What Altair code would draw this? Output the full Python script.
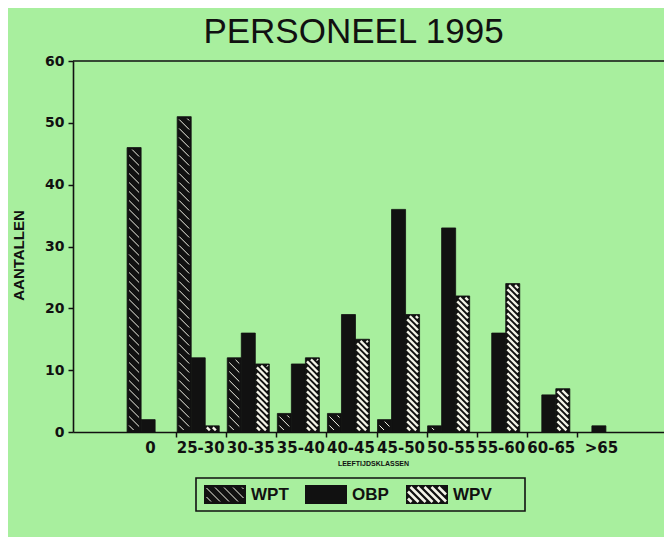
import json
import altair as alt
import pandas as pd

# ---------------- data ----------------
categories = ["0", "25-30", "30-35", "35-40", "40-45", "45-50", "50-55", "55-60", "60-65", ">65"]
series = ["WPT", "OBP", "WPV"]
wpt = [46, 51, 12, 3, 3, 2, 1, 0, 0, 0]
obp = [2, 12, 16, 11, 19, 36, 33, 16, 6, 1]
wpv = [0, 1, 11, 12, 15, 19, 22, 24, 7, 0]
y_ticks = [0, 10, 20, 30, 40, 50, 60]

# ---------------- layout ----------------
W, H = 591, 371
XMIN, XMAX = -0.06, 11.74
YMAX = 60
PX_X = W / (XMAX - XMIN)
PX_Y = H / YMAX
BAR = 0.28
START = 0.02
BG = "#a8ef9e"
FONT = "Liberation Sans"
WIDE = "DejaVu Sans"


def hatch(w, h, step, inset):
    """Diagonal '\\' segments inside a w x h box (u from left, t from bottom)."""
    segs = []
    uw, th = w - 2 * inset, h - 2 * inset
    if uw <= 0 or th <= 0:
        return segs
    c = step / 2
    while c < th + uw:
        u0, u1 = max(0.0, c - th), min(uw, c)
        if u1 - u0 > 0.5:
            segs.append((inset + u0, inset + c - u0, inset + u1, inset + c - u1))
        c += step
    return segs


rows, hrows = [], []
for i, cat in enumerate(categories):
    for j, (s, vals) in enumerate(zip(series, [wpt, obp, wpv])):
        v = vals[i]
        if v <= 0:
            continue
        x0 = i + 1 + START + j * BAR
        rows.append(dict(cat=cat, series=s, value=v, base=0, x0=x0, x1=x0 + BAR))
        if s == "OBP":
            continue
        step, inset = (9.0, 2.0) if s == "WPT" else (6.0, 1.6)
        for (u0, t0, u1, t1) in hatch(BAR * PX_X, v * PX_Y, step, inset):
            hrows.append(dict(series=s, hx0=x0 + u0 / PX_X, hy0=t0 / PX_Y,
                              hx1=x0 + u1 / PX_X, hy1=t1 / PX_Y))
bars = pd.DataFrame(rows)
hat = pd.DataFrame(hrows)

x_scale = alt.Scale(domain=[XMIN, XMAX], nice=False, zero=False)
y_scale = alt.Scale(domain=[0, YMAX], nice=False)
label_expr = json.dumps(categories) + "[datum.value - 1]"
x_axis = alt.Axis(
    values=list(range(1, len(categories) + 1)), labelExpr=label_expr, labelOffset=24,
    tickOpacity={"condition": {"test": "datum.value < 1.5", "value": 0}, "value": 1},
    labelOverlap=False, labelFlush=False, labelBound=False, grid=False,
    labelFont=WIDE, labelFontSize=15, labelFontWeight="bold", labelPadding=3, tickSize=5,
    title="LEEFTIJDSKLASSEN", titleFontSize=7, titleFontWeight="bold",
    titleX=300, titleY=31, titleBaseline="middle", titleAlign="center",
)
y_axis = alt.Axis(
    values=y_ticks, grid=False, tickSize=5, labelFont=WIDE, labelFontSize=14,
    labelFontWeight="bold", labelPadding=4, title="AANTALLEN", titleFontSize=15,
    titleFontWeight="bold", titleX=-55, titleY=194, titleBaseline="middle",
    titleAlign="center", titleAngle=270,
)

bar_layer = alt.Chart(bars).mark_rect(color="#111111", stroke="#111111", strokeWidth=0.8).encode(
    x=alt.X("x0:Q", scale=x_scale, axis=x_axis),
    x2="x1:Q",
    y=alt.Y("value:Q", scale=y_scale, axis=y_axis),
    y2="base:Q",
    tooltip=["cat:N", "series:N", "value:Q"],
)
hatch_wpt = alt.Chart(hat[hat.series == "WPT"]).mark_rule(color="#f4f4e8", strokeWidth=1.0).encode(
    x=alt.X("hx0:Q", scale=x_scale, axis=x_axis), x2="hx1:Q",
    y=alt.Y("hy0:Q", scale=y_scale, axis=y_axis), y2="hy1:Q",
)
hatch_wpv = alt.Chart(hat[hat.series == "WPV"]).mark_rule(color="#f4f4e8", strokeWidth=2.4).encode(
    x=alt.X("hx0:Q", scale=x_scale, axis=x_axis), x2="hx1:Q",
    y=alt.Y("hy0:Q", scale=y_scale, axis=y_axis), y2="hy1:Q",
)
top_line = alt.Chart(pd.DataFrame({"a": [0]})).mark_rule(color="#111111", strokeWidth=1.5).encode(
    x=alt.value(0), x2=alt.value(W), y=alt.value(0)
)
main = alt.layer(bar_layer, hatch_wpt, hatch_wpv, top_line)

# ---------------- legend (pixel space, below the plot) ----------------
BOX = dict(x0=123, x1=452, y0=417, y1=450)
SW_W, SW_H = 42, 19
sw_top = 424
leg_rows, leg_h = [], []
for i, s in enumerate(series):
    sx = 131 + i * 101
    leg_rows.append(dict(series=s, sx0=sx, sx1=sx + SW_W, sy0=sw_top, sy1=sw_top + SW_H,
                         tx=sx + 47, ty=sw_top + SW_H / 2 + 0.5))
    if s == "OBP":
        continue
    step, inset, sw = (9.0, 2.5, 1.0) if s == "WPT" else (7.0, 2.0, 2.6)
    for (u0, t0, u1, t1) in hatch(SW_W, SW_H, step, inset):
        leg_h.append(dict(series=s, w=sw, lx0=sx + u0, ly0=sw_top + SW_H - t0,
                          lx1=sx + u1, ly1=sw_top + SW_H - t1))
leg = pd.DataFrame(leg_rows)
legh = pd.DataFrame(leg_h)

box = alt.Chart(pd.DataFrame([BOX])).mark_rect(fill=None, stroke="#111111", strokeWidth=1.6).encode(
    x=alt.X("x0:Q", scale=None, axis=None), x2="x1:Q",
    y=alt.Y("y0:Q", scale=None, axis=None), y2="y1:Q",
)
sw = alt.Chart(leg).mark_rect(color="#111111").encode(
    x=alt.X("sx0:Q", scale=None, axis=None), x2="sx1:Q",
    y=alt.Y("sy0:Q", scale=None, axis=None), y2="sy1:Q",
)
sw_h1 = alt.Chart(legh[legh.series == "WPT"]).mark_rule(color="#f4f4e8", strokeWidth=1.0).encode(
    x=alt.X("lx0:Q", scale=None, axis=None), x2="lx1:Q",
    y=alt.Y("ly0:Q", scale=None, axis=None), y2="ly1:Q",
)
sw_h2 = alt.Chart(legh[legh.series == "WPV"]).mark_rule(color="#f4f4e8", strokeWidth=2.6).encode(
    x=alt.X("lx0:Q", scale=None, axis=None), x2="lx1:Q",
    y=alt.Y("ly0:Q", scale=None, axis=None), y2="ly1:Q",
)
txt = alt.Chart(leg).mark_text(align="left", baseline="middle", fontSize=17, fontWeight="bold",
                               font=FONT, color="#111111").encode(
    x=alt.X("tx:Q", scale=None, axis=None),
    y=alt.Y("ty:Q", scale=None, axis=None),
    text="series:N",
)
legend = alt.layer(box, sw, sw_h1, sw_h2, txt)

chart = alt.layer(main, legend).resolve_scale(x="independent", y="independent").properties(
    width=W, height=H,
    title=alt.TitleParams("PERSONEEL 1995", fontSize=35, font=FONT, fontWeight="normal",
                          color="#111111", anchor="middle", dx=-15, offset=4),
    autosize=alt.AutoSizeParams(type="none"),
    padding={"left": 65, "top": 53, "right": 0, "bottom": 105},
    background=BG,
).configure_view(stroke=None).configure_axis(
    domainColor="#111111", domainWidth=1.6, tickColor="#111111", tickWidth=1.5,
    labelColor="#111111", titleColor="#111111", titleFont=FONT,
)

chart.save("out.html", embed_options={"renderer": "svg", "actions": False})
